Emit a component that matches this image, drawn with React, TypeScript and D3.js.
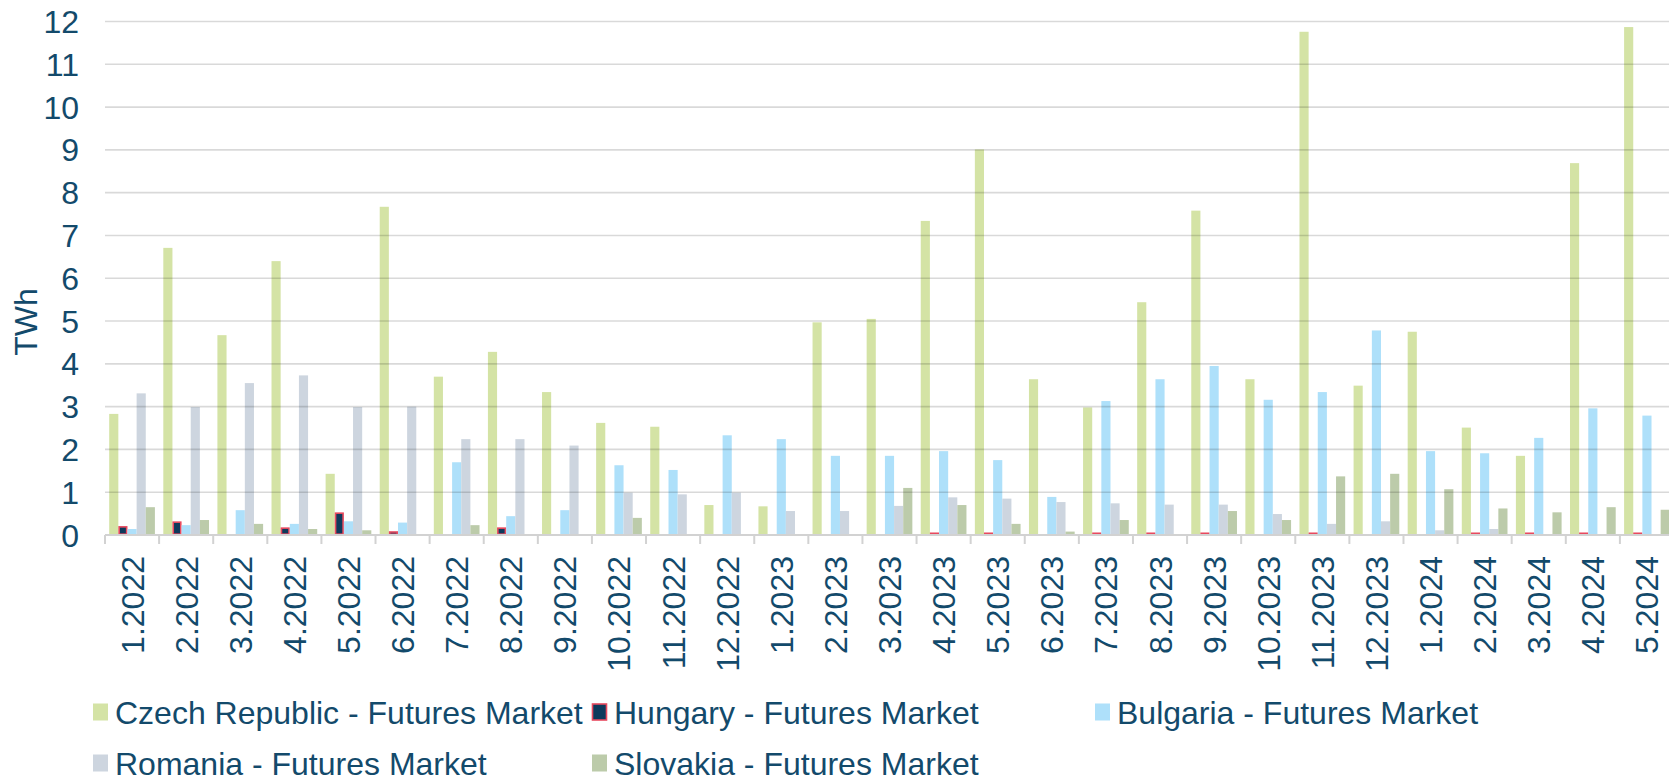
import React from 'react';
import * as d3 from 'd3';

const categories = [
  '1.2022', '2.2022', '3.2022', '4.2022', '5.2022', '6.2022', '7.2022', '8.2022', '9.2022', '10.2022', '11.2022', '12.2022',
  '1.2023', '2.2023', '3.2023', '4.2023', '5.2023', '6.2023', '7.2023', '8.2023', '9.2023', '10.2023', '11.2023', '12.2023',
  '1.2024', '2.2024', '3.2024', '4.2024', '5.2024',
];

const czech = [2.83, 6.71, 4.67, 6.40, 1.43, 7.67, 3.70, 4.28, 3.34, 2.62, 2.53, 0.70,
  0.67, 4.97, 5.05, 7.34, 9.01, 3.64, 2.98, 5.44, 7.58, 3.64, 11.76, 3.49,
  4.75, 2.51, 1.85, 8.69, 11.87];
const hungary = [0.19, 0.30, 0, 0.16, 0.51, 0.07, 0, 0.16, 0, 0, 0, 0,
  0, 0, 0, 0.04, 0.04, 0, 0.04, 0.04, 0.04, 0, 0.04, 0,
  0, 0.04, 0.04, 0.04, 0.04];
const bulgaria = [0.14, 0.23, 0.58, 0.26, 0.32, 0.29, 1.70, 0.44, 0.58, 1.63, 1.52, 2.33,
  2.24, 1.85, 1.85, 1.96, 1.75, 0.89, 3.13, 3.64, 3.95, 3.16, 3.34, 4.78,
  1.96, 1.91, 2.27, 2.96, 2.79];
const romania = [3.31, 2.99, 3.55, 3.73, 2.99, 3.00, 2.24, 2.24, 2.09, 0.99, 0.95, 0.99,
  0.56, 0.56, 0.68, 0.88, 0.85, 0.77, 0.74, 0.71, 0.71, 0.49, 0.26, 0.32,
  0.11, 0.14, 0, 0, 0];
const slovakia = [0.65, 0.35, 0.26, 0.14, 0.11, 0, 0.23, 0, 0, 0.40, 0, 0,
  0, 0, 1.10, 0.70, 0.26, 0.08, 0.35, 0, 0.56, 0.35, 1.37, 1.43,
  1.07, 0.62, 0.53, 0.65, 0.59];

const seriesNames = [
  'Czech Republic - Futures Market',
  'Hungary - Futures Market',
  'Bulgaria - Futures Market',
  'Romania - Futures Market',
  'Slovakia - Futures Market',
];
const yTicks = [0, 1, 2, 3, 4, 5, 6, 7, 8, 9, 10, 11, 12];

const seriesValues = [czech, hungary, bulgaria, romania, slovakia];
const fills = ['#d4e3a5', '#0e3a5c', '#aee0fa', '#cdd5df', '#bccbaa'];
const strokes = ['none', '#e84a5f', 'none', 'none', 'none'];

const FONT = '"Liberation Sans", Arial, Helvetica, sans-serif';
const TEXT = '#134a6b';

export default function App() {
  const W = 1669, H = 777;
  const x0 = d3.scaleBand<string>().domain(categories).range([105, 1674]);
  const bw = x0.bandwidth();
  const x1 = d3.scaleBand<string>().domain(seriesNames).range([4.2, bw - 4.2]);
  const y = d3.scaleLinear().domain([0, 12]).range([535, 21.5]);
  const plotL = 105, plotR = 1674;

  const legendCols = [115, 614, 1117];
  const legendRows = [712, 763];
  const legendPos = [
    [legendCols[0], legendRows[0]],
    [legendCols[1], legendRows[0]],
    [legendCols[2], legendRows[0]],
    [legendCols[0], legendRows[1]],
    [legendCols[1], legendRows[1]],
  ];

  return (
    <svg width={W} height={H} style={{ position: 'absolute', left: 0, top: 0, display: 'block', background: '#fff' }}
      fontFamily={FONT}>
      {/* bars */}
      {seriesNames.map((s, si) => (
        <g key={s}>
          {categories.map((c, ci) => {
            const v = seriesValues[si][ci];
            if (!v) return null;
            const bx = (x0(c) as number) + (x1(s) as number);
            const w = x1.bandwidth();
            const top = y(v);
            const h = y(0) - top;
            if (strokes[si] !== 'none') {
              return (
                <rect key={c} x={bx + 0.8} y={top} width={w - 1.6} height={Math.max(h - 0.8, 0.6)}
                  fill={fills[si]} stroke={strokes[si]} strokeWidth={1.6} />
              );
            }
            return <rect key={c} x={bx} y={top} width={w} height={h} fill={fills[si]} />;
          })}
        </g>
      ))}
      {/* gridlines */}
      {yTicks.filter((t) => t > 0).map((t) => (
        <line key={t} x1={plotL} x2={plotR} y1={y(t)} y2={y(t)} stroke="rgba(0,0,0,0.15)" strokeWidth={1.6} />
      ))}
      {/* axis */}
      <line x1={plotL} x2={plotR} y1={y(0)} y2={y(0)} stroke="#d2d2d2" strokeWidth={2} />
      {categories.map((c) => (
        <line key={c} x1={x0(c) as number} x2={x0(c) as number} y1={y(0)} y2={y(0) + 9} stroke="#d2d2d2" strokeWidth={2} />
      ))}
      <line x1={plotR} x2={plotR} y1={y(0)} y2={y(0) + 9} stroke="#d2d2d2" strokeWidth={2} />
      {/* y tick labels */}
      {yTicks.map((t) => (
        <text key={t} x={79} y={y(t) + 11.5} textAnchor="end" fontSize={32} fill={TEXT}>{t}</text>
      ))}
      {/* y title */}
      <text transform={`translate(37,322) rotate(-90)`} textAnchor="middle" fontSize={32} fill={TEXT}>TWh</text>
      {/* x labels */}
      {categories.map((c) => {
        const cx = (x0(c) as number) + bw / 2;
        return (
          <text key={c} transform={`translate(${cx + 11.5},556) rotate(-90)`} textAnchor="end" fontSize={32} fill={TEXT}>{c}</text>
        );
      })}
      {/* legend */}
      {seriesNames.map((s, si) => {
        const [lx, ly] = legendPos[si];
        return (
          <g key={s}>
            {strokes[si] !== 'none' ? (
              <rect x={lx - 21.5} y={ly - 8} width={14} height={16} fill={fills[si]} stroke={strokes[si]} strokeWidth={1.6} />
            ) : (
              <rect x={lx - 22} y={ly - 8.5} width={15} height={17} fill={fills[si]} />
            )}
            <text x={lx} y={ly + 11.5} fontSize={32} fill={TEXT}>{s}</text>
          </g>
        );
      })}
    </svg>
  );
}
